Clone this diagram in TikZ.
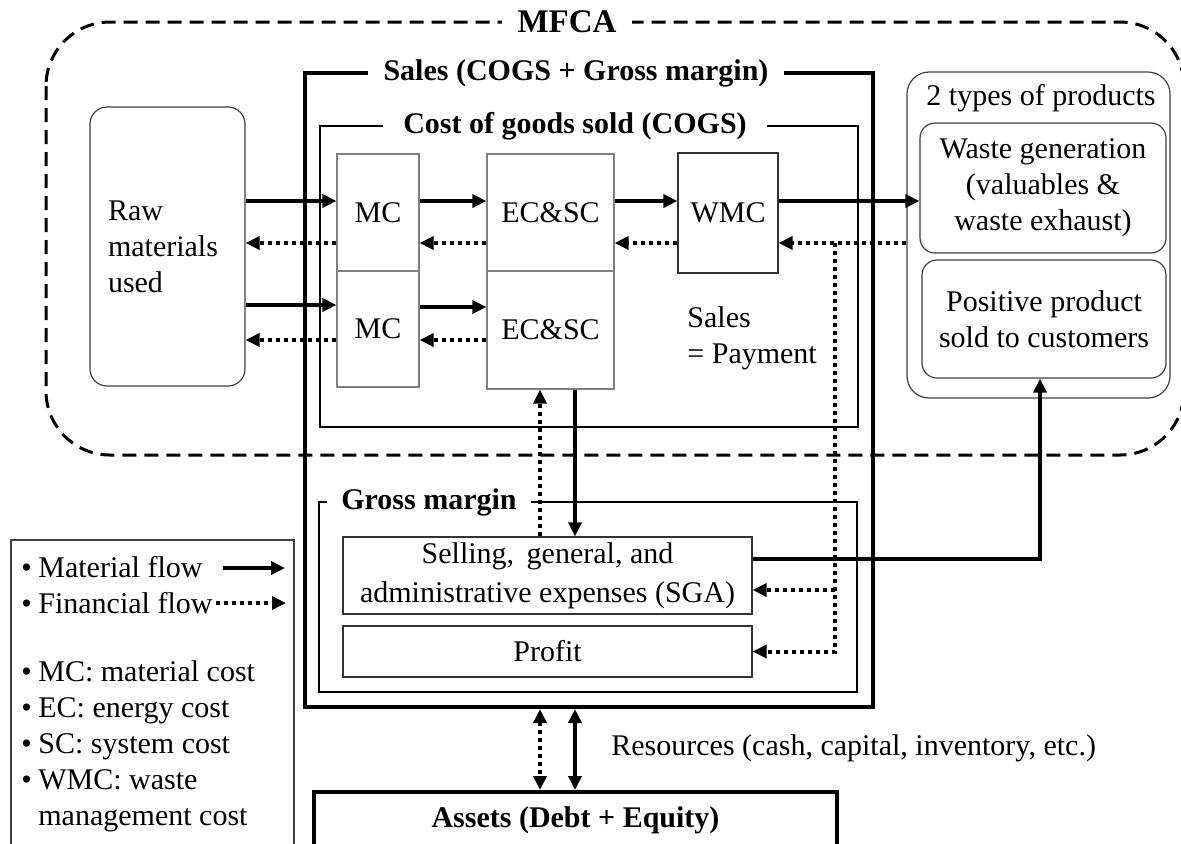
\documentclass[tikz,border=0pt]{standalone}
\usepackage{fontspec}
\setmainfont{Liberation Serif}
\usetikzlibrary{arrows.meta}
\newcommand{\lgb}{\makebox[8.5pt][l]{\textbullet}}

\begin{document}
\begin{tikzpicture}[x=0.5pt,y=-0.5pt,
  >={Triangle[length=7pt,width=6.5pt]},
  every node/.style={font=\fontsize{15}{18}\selectfont},
  box/.style={draw=black!80,line width=0.6pt,inner sep=0pt},
  cbox/.style={box,draw=black!50},
  rbox/.style={box,draw=black!75,rounded corners=7.5pt},
  frame/.style={draw,line width=1pt,inner sep=0pt},
  title/.style={font=\fontsize{15}{18}\selectfont\bfseries,fill=white,inner xsep=7pt,inner ysep=0pt},
  mflow/.style={->,line width=2pt},
  fflow/.style={->,line width=2pt,dash pattern=on 2pt off 2pt}]
\useasboundingbox (0,0) rectangle (1181,843);

\draw [line width=1.5pt,dash pattern=on 7pt off 4pt,rounded corners=32pt] (46,22) rectangle (1184,455);
\node (mfca) [title,font=\fontsize{16.5}{20}\selectfont\bfseries,inner xsep=8pt] at (567,22) {MFCA};

\node (sales) [frame,line width=2pt,minimum width=284pt,minimum height=317pt] at (589,390) {};
\node (salestitle) [title,inner xsep=8pt] at (576,73) {Sales (COGS + Gross margin)};
\node (cogs) [frame,minimum width=269pt,minimum height=150.5pt] at (589,276.5) {};
\node (cogstitle) [title,inner xsep=10pt] at (575,126) {Cost of goods sold (COGS)};
\node (margin) [frame,minimum width=269pt,minimum height=95pt] at (588,597) {};
\node (margintitle) [title] at (429,502) {Gross margin};

\node (raw) [rbox,rounded corners=8.5pt,minimum width=77.5pt,minimum height=139.5pt,align=left,text width=59.5pt] at (167.5,246.5) {Raw\\materials\\used};
\node (mcA) [cbox,minimum width=41pt,minimum height=58.5pt] at (378,212.5) {MC};
\node (mcB) [cbox,minimum width=41pt,minimum height=58pt] at (378,329) {MC};
\node (ecA) [cbox,minimum width=63.5pt,minimum height=58.5pt] at (550.5,212.5) {EC\&SC};
\node (ecB) [cbox,minimum width=63.5pt,minimum height=59pt] at (550.5,330) {EC\&SC};
\node (wmc) [box,minimum width=50pt,minimum height=60pt] at (728,213) {WMC};
\node (pay) [anchor=west,align=left,inner sep=0pt] at (687,338) {Sales\\= Payment};

\node (prod) [rbox,rounded corners=11pt,minimum width=131.5pt,minimum height=163pt] at (1038.5,235) {};
\node (prodtitle) [inner sep=0pt] at (1041,98) {2 types of products};
\node (waste) [rbox,minimum width=123pt,minimum height=65pt,align=center] at (1043,188) {Waste generation\\(valuables \&\\waste exhaust)};
\node (pos) [rbox,minimum width=122pt,minimum height=59pt,align=center] at (1044,319) {Positive product\\sold to customers};

\node (sga) [box,minimum width=204.5pt,minimum height=38.5pt,align=center,font=\fontsize{15}{19.5}\selectfont] at (547.5,575.5) {Selling,\, general, and\\administrative expenses (SGA)};
\node (profit) [box,minimum width=204.5pt,minimum height=25.5pt] at (547.5,651.5) {Profit};
\node (assets) [frame,line width=2pt,minimum width=261.5pt,minimum height=28pt,font=\fontsize{15}{18}\selectfont\bfseries] at (575.5,820) {Assets (Debt + Equity)};
\node (res) [anchor=west,inner sep=0pt] at (611,748) {Resources (cash, capital, inventory, etc.)};

\draw [mflow] (raw.east |- 0,201) -- (mcA.west |- 0,201);
\draw [fflow] (mcA.west |- 0,243) -- (raw.east |- 0,243);
\draw [mflow] (raw.east |- 0,305) -- (mcB.west |- 0,305);
\draw [fflow] (mcB.west |- 0,340) -- (raw.east |- 0,340);
\draw [mflow] (mcA.east |- 0,201) -- (ecA.west |- 0,201);
\draw [fflow] (ecA.west |- 0,243) -- (mcA.east |- 0,243);
\draw [mflow] (mcB.east |- 0,307) -- (ecB.west |- 0,307);
\draw [fflow] (ecB.west |- 0,340) -- (mcB.east |- 0,340);
\draw [mflow] (ecA.east |- 0,201) -- (wmc.west |- 0,201);
\draw [fflow] (wmc.west |- 0,243) -- (ecA.east |- 0,243);
\draw [mflow] (wmc.east |- 0,201) -- (waste.west |- 0,201);
\draw [fflow] (prod.west |- 0,243) -- (wmc.east |- 0,243);
\coordinate (split) at (835,243);
\draw [fflow] (split) |- (profit.east);
\draw [fflow] (split |- 0,590) -- (sga.east |- 0,590);
\draw [fflow] (sga.north -| 540,0) -- (ecB.south -| 540,0);
\draw [mflow] (ecB.south -| 575,0) -- (sga.north -| 575,0);
\draw [mflow] (sga.east |- 0,559) -| (pos.south -| 1040,0);
\draw [fflow,<->] (sales.south -| 540,0) -- (assets.north -| 540,0);
\draw [mflow,<->] (sales.south -| 575,0) -- (assets.north -| 575,0);

\draw [draw=black!75,line width=0.6pt] (11,540) rectangle (294,860);
\node (lgmat) [anchor=west,inner sep=0pt] at (21,567) {\lgb Material flow};
\node (lgfin) [anchor=west,inner sep=0pt] at (21,603) {\lgb Financial flow};
\coordinate (lgmatA) at (223,568);
\coordinate (lgmatB) at (285,568);
\coordinate (lgfinB) at (286,603);
\draw [mflow] (lgmatA) -- (lgmatB);
\draw [fflow] ([xshift=1.5pt]lgfin.east |- lgfinB) -- (lgfinB);
\node (lgabbr) [anchor=north west,align=left,inner sep=0pt] at (21,660) {\lgb MC: material cost\\\lgb EC: energy cost\\\lgb SC: system cost\\\lgb WMC: waste\\\hspace*{8.5pt}management cost};

\end{tikzpicture}
\end{document}
